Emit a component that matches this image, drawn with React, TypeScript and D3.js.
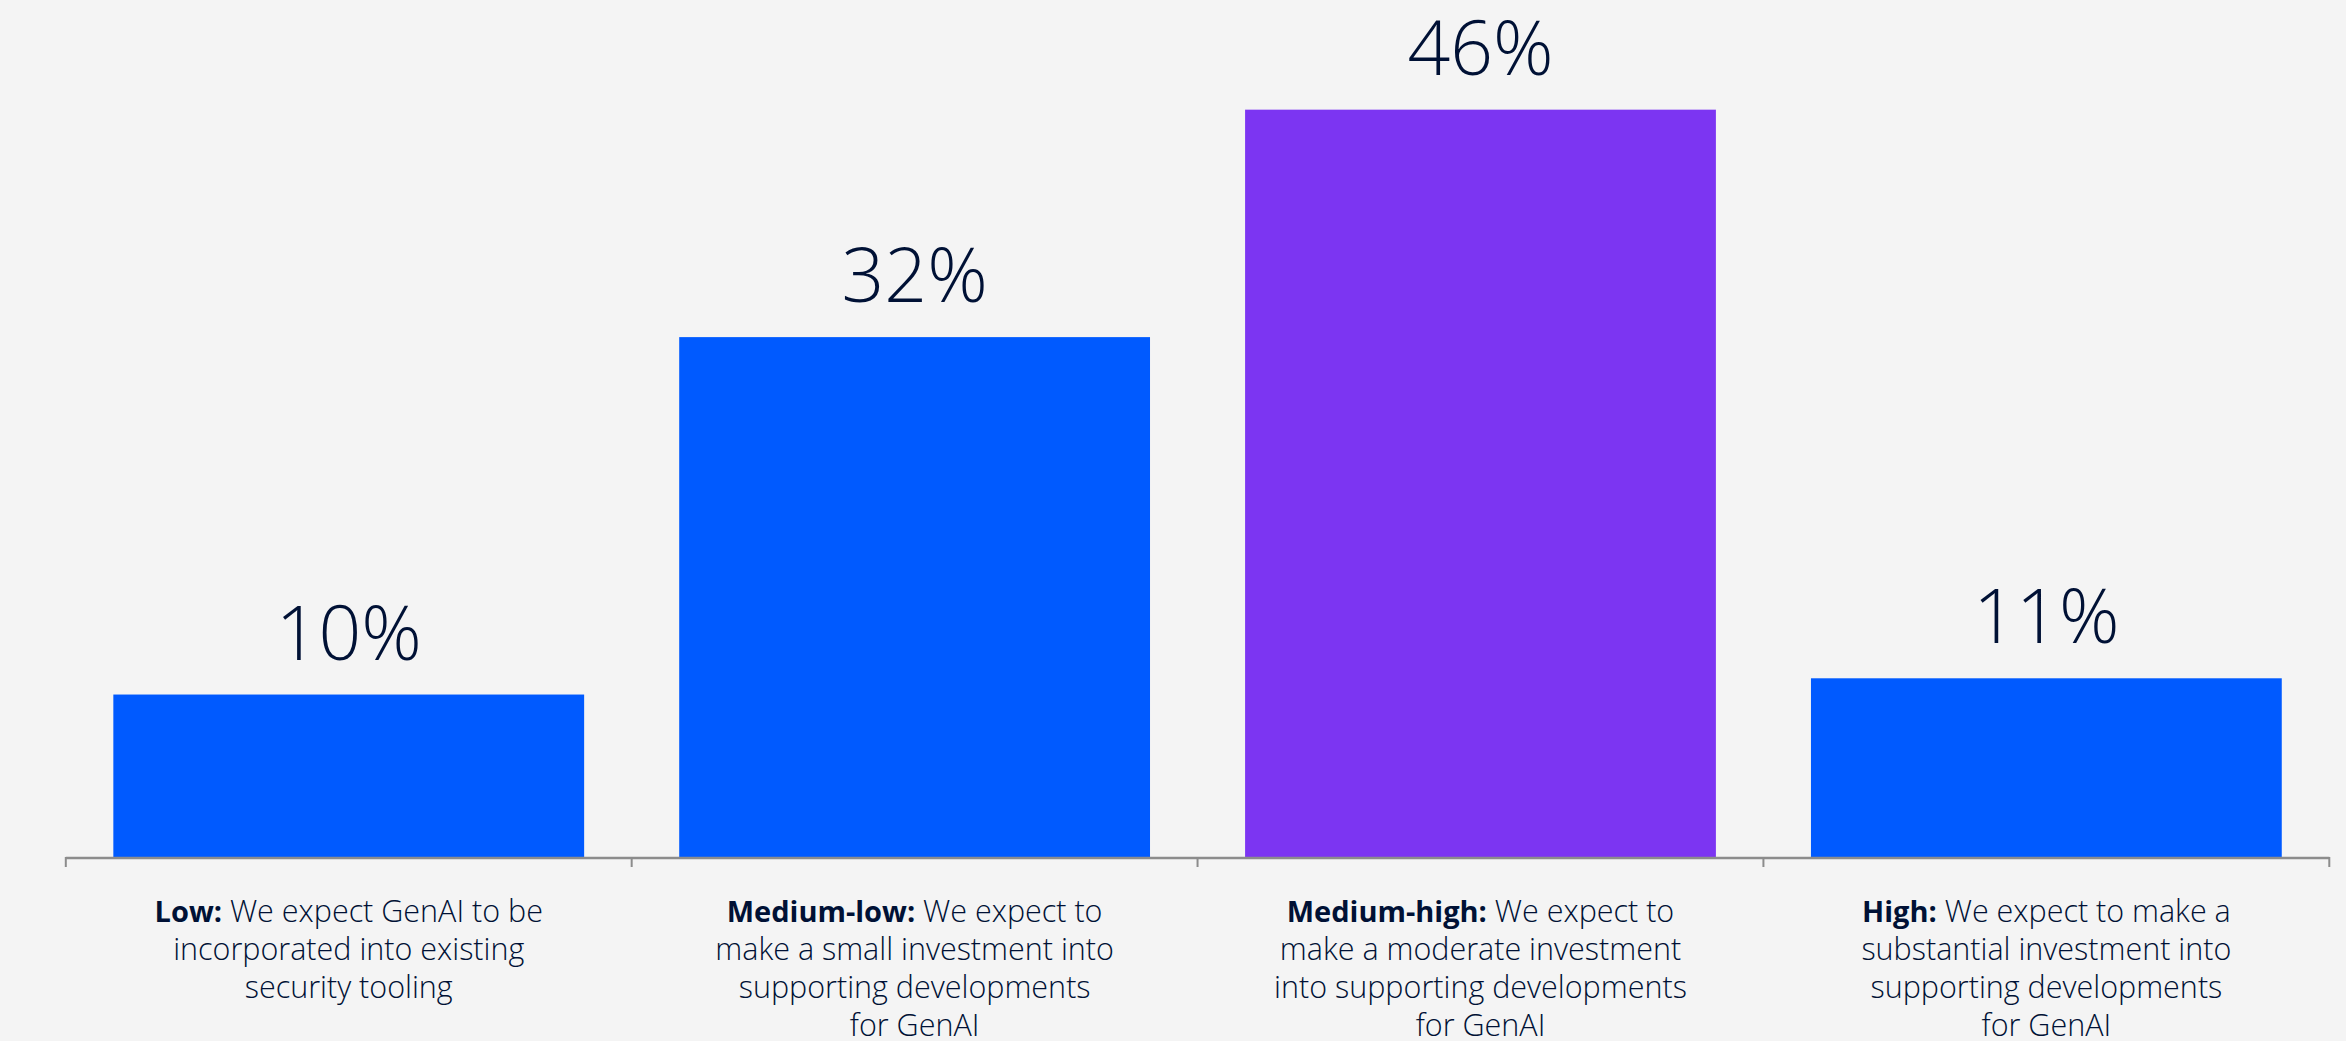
import React from "react";
import * as d3 from "d3";

const categories = ["Low", "Medium-low", "Medium-high", "High"];
const values = [10, 32, 46, 11];
const labelLeads = ["Low:", "Medium-low:", "Medium-high:", "High:"];
const labelLines = [
  ["We expect GenAI to be", "incorporated into existing", "security tooling"],
  ["We expect to", "make a small investment into", "supporting developments", "for GenAI"],
  ["We expect to", "make a moderate investment", "into supporting developments", "for GenAI"],
  ["We expect to make a", "substantial investment into", "supporting developments", "for GenAI"],
];
const highlighted = "Medium-high";

const W = 2346;
const H = 1041;
const BG = "#F4F4F4";
const BLUE = "#005AFF";
const PURPLE = "#7C35F2";
const TEXT = "#001135";
const AXIS = "#8C8C8C";
const FONT = "'Open Sans', 'Noto Sans', sans-serif";

export default function App() {
  const x0 = 65.8;
  const x1 = 2329.3;
  const baseline = 857;
  const x = d3.scaleBand<string>().domain(categories).range([x0, x1]).paddingInner(0.168).paddingOuter(0.084);
  const y = d3.scaleLinear().domain([0, 52.75]).range([baseline, 0]);
  const step = (x1 - x0) / categories.length;
  const ticks = d3.range(categories.length + 1).map((i) => x0 + i * step);

  return (
    <svg
      width={W}
      height={H}
      style={{ position: "absolute", left: 0, top: 0, display: "block", background: BG }}
    >
      <rect x={0} y={0} width={W} height={H} fill={BG} />
      {categories.map((c, i) => {
        const bx = x(c)!;
        const by = y(values[i]);
        const cx = bx + x.bandwidth() / 2;
        return (
          <g key={c}>
            <rect
              x={bx}
              y={by}
              width={x.bandwidth()}
              height={baseline - by}
              fill={c === highlighted ? PURPLE : BLUE}
            />
            <text
              x={cx}
              y={by - 35}
              textAnchor="middle"
              fontFamily={FONT}
              fontWeight={300}
              fontSize={75}
              fill={TEXT}
            >
              {values[i]}%
            </text>
            <text textAnchor="middle" fontFamily={FONT} fontSize={30.5} fill={TEXT} fontWeight={300}>
              {labelLines[i].map((line, j) => (
                <tspan key={j} x={cx} y={921.5 + j * 38.3}>
                  {j === 0 ? (
                    <>
                      <tspan fontWeight={700} fontSize={29}>{labelLeads[i]}</tspan>
                      {" " + line}
                    </>
                  ) : (
                    line
                  )}
                </tspan>
              ))}
            </text>
          </g>
        );
      })}
      <line x1={x0} x2={x1} y1={baseline + 1} y2={baseline + 1} stroke={AXIS} strokeWidth={2.5} />
      {ticks.map((t, i) => (
        <line key={i} x1={t} x2={t} y1={baseline} y2={baseline + 10} stroke={AXIS} strokeWidth={2} />
      ))}
    </svg>
  );
}
